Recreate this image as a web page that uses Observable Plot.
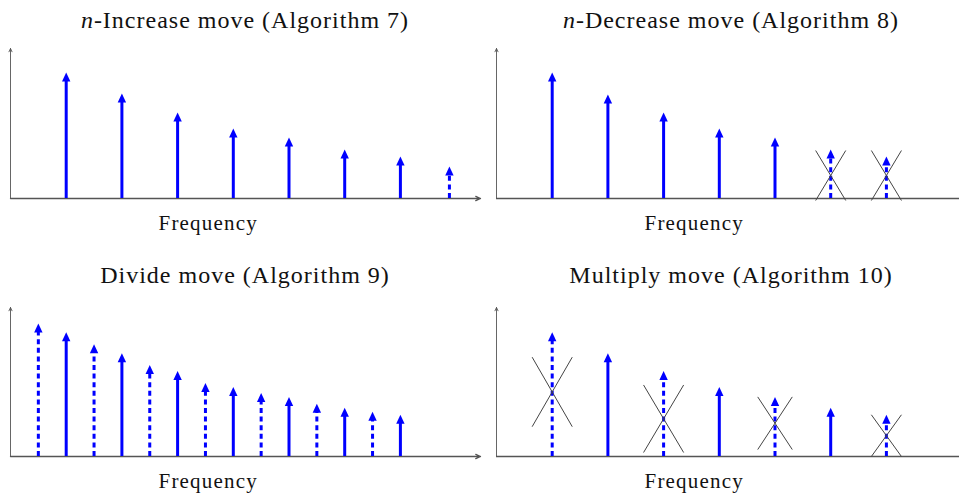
<!DOCTYPE html>
<html>
<head>
<meta charset="utf-8">
<script src="https://cdn.jsdelivr.net/npm/d3@7"></script>
<script src="https://cdn.jsdelivr.net/npm/@observablehq/plot@0.6"></script>
<style>
  html, body { margin: 0; padding: 0; background: #fff; overflow: hidden; }
  body { width: 959px; height: 498px; position: relative; font-family: "Liberation Serif", serif; }
  .title { position: absolute; width: 470px; text-align: center; font-size: 24px; line-height: 24px; letter-spacing: 1px; color: #111; white-space: nowrap; }
  .panel { position: absolute; }
  .panel svg text { letter-spacing: 1.2px; }
</style>
</head>
<body>
<script>
// ---------- data ----------
// n-Increase move (Algorithm 7)
const incFreq  = [1, 2, 3, 4, 5, 6, 7, 7.88];
const incAmp   = [125, 104, 85, 69, 60, 48, 41, 31];
const incDash  = [false, false, false, false, false, false, false, true];

// n-Decrease move (Algorithm 8)
const decFreq  = [1, 2, 3, 4, 5, 6, 7];
const decAmp   = [125, 103, 85, 69, 60, 48, 41];
const decDash  = [false, false, false, false, false, true, true];
const decCrossFreq = [6, 7];
const decCrossLo   = [-2, -2];
const decCrossHi   = [48, 48];
const decCrossHalf = [0.27, 0.27];

// Divide move (Algorithm 9)
const divFreq  = [0.5, 1, 1.5, 2, 2.5, 3, 3.5, 4, 4.5, 5, 5.5, 6, 6.5, 7];
const divAmp   = [133, 124, 112, 103, 91, 85, 73, 69, 63, 59, 52, 48, 44, 41];
const divDash  = [true, false, true, false, true, false, true, false, true, false, true, false, true, false];

// Multiply move (Algorithm 10)
const mulFreq  = [1, 2, 3, 4, 5, 6, 7];
const mulAmp   = [124, 103, 85, 69, 59, 48, 41];
const mulDash  = [true, false, true, false, true, false, true];
const mulCrossFreq = [1, 3, 5, 7];
const mulCrossLo   = [30, 4, 7, 0];
const mulCrossHi   = [100, 72, 60, 42];
const mulCrossHalf = [0.36, 0.36, 0.31, 0.27];

const titles = ["<i>n</i>-Increase move (Algorithm 7)", "<i>n</i>-Decrease move (Algorithm 8)",
                "Divide move (Algorithm 9)", "Multiply move (Algorithm 10)"];
const axisLabel = "Frequency";
const labelFreq = 3.55;
const yTop = 150;

// ---------- drawing ----------
const BLUE = "#0000ff";
const AXIS = "#555";
const pxPerUnit = 55.7;

// filled arrow head whose apex sits at the anchor point
const headSymbol = {
  draw(context) {
    context.moveTo(0, -1);
    context.lineTo(4.2, 8);
    context.lineTo(-4.2, 8);
    context.closePath();
  }
};

function stems(freq, amp, dash) {
  return freq.map((f, i) => ({f, a: amp[i], dashed: dash[i]}));
}
function crosses(freq, lo, hi, half) {
  const out = [];
  freq.forEach((f, i) => {
    out.push({x1: f - half[i], y1: hi[i], x2: f + half[i], y2: lo[i]});
    out.push({x1: f + half[i], y1: hi[i], x2: f - half[i], y2: lo[i]});
  });
  return out;
}

function panel({left, top, width, marginLeft, marginTop, marginBottom, data, cross, xArrow}) {
  const plotW = width - marginLeft;
  const xMax = plotW / pxPerUnit;
  const solid = data.filter(d => !d.dashed);
  const dashed = data.filter(d => d.dashed);
  const marks = [
    Plot.arrow([{x1: 0, y1: 0, x2: 0, y2: yTop}], {x1: "x1", y1: "y1", x2: "x2", y2: "y2", stroke: AXIS, strokeWidth: 0.9, headLength: 6, headAngle: 50}),
    xArrow
      ? Plot.arrow([{x1: 0, y1: 0, x2: xMax, y2: 0}], {x1: "x1", y1: "y1", x2: "x2", y2: "y2", stroke: AXIS, strokeWidth: 1.3, headLength: 6, headAngle: 50})
      : Plot.ruleY([0], {stroke: AXIS, strokeWidth: 1.3}),
    Plot.ruleX(solid, {x: "f", y1: 0, y2: d => d.a - 5, stroke: BLUE, strokeWidth: 3}),
    Plot.ruleX(dashed, {x: "f", y1: 0, y2: d => d.a - 5, stroke: BLUE, strokeWidth: 3, strokeDasharray: "5,3.6"}),
    Plot.dot(data, {x: "f", y: "a", symbol: headSymbol, fill: BLUE, stroke: "none"}),
    Plot.text([axisLabel], {x: labelFreq, y: 0, dy: 25, text: d => d, fontFamily: "Liberation Serif", fontSize: 21, fill: "#111"})
  ];
  if (cross) {
    marks.push(Plot.link(cross, {x1: "x1", y1: "y1", x2: "x2", y2: "y2", stroke: "#444", strokeWidth: 1}));
  }
  const svg = Plot.plot({
    width, height: 200,
    marginLeft, marginRight: 0, marginTop, marginBottom,
    x: {domain: [0, xMax], axis: null},
    y: {domain: [0, yTop], axis: null},
    style: {background: "transparent", overflow: "visible"},
    marks
  });
  const div = document.createElement("div");
  div.className = "panel";
  div.style.left = left + "px";
  div.style.top = top + "px";
  div.appendChild(svg);
  document.body.appendChild(div);
}

function title(html, left, top) {
  const d = document.createElement("div");
  d.className = "title";
  d.innerHTML = html;
  d.style.left = left + "px";
  d.style.top = top + "px";
  document.body.appendChild(d);
}

panel({left: 0, top: 40, width: 480, marginLeft: 10, marginTop: 8, marginBottom: 42,
       data: stems(incFreq, incAmp, incDash), cross: null, xArrow: true});
panel({left: 480, top: 40, width: 479, marginLeft: 16, marginTop: 8, marginBottom: 42,
       data: stems(decFreq, decAmp, decDash), cross: crosses(decCrossFreq, decCrossLo, decCrossHi, decCrossHalf), xArrow: false});
panel({left: 0, top: 300, width: 480, marginLeft: 10, marginTop: 7, marginBottom: 44,
       data: stems(divFreq, divAmp, divDash), cross: null, xArrow: true});
panel({left: 480, top: 300, width: 479, marginLeft: 16, marginTop: 7, marginBottom: 44,
       data: stems(mulFreq, mulAmp, mulDash), cross: crosses(mulCrossFreq, mulCrossLo, mulCrossHi, mulCrossHalf), xArrow: false});

title(titles[0], 10, 8);
title(titles[1], 496, 8);
title(titles[2], 10, 263);
title(titles[3], 496, 263);
</script>
</body>
</html>
